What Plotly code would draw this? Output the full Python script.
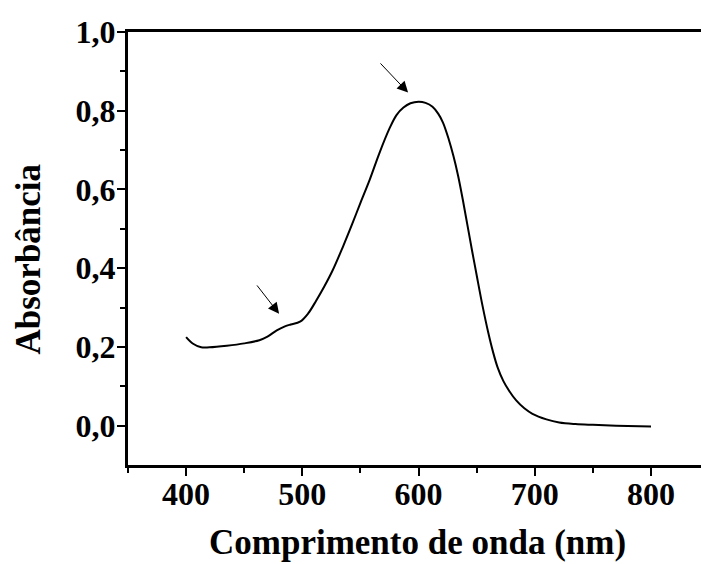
import plotly.graph_objects as go

comprimento = [400, 406, 413, 420, 435, 450, 463, 470, 478, 485, 490, 498,
               505, 512, 519, 526, 535, 543, 550, 558, 566, 575, 581, 587,
               593, 600, 606, 612, 617, 621, 626, 630, 634, 638, 642, 646,
               650, 655, 660, 664, 668, 673, 678, 684, 691, 698, 710, 721,
               735, 750, 770, 800]
absorbancia = [0.225, 0.208, 0.199, 0.199, 0.203, 0.209, 0.217, 0.226, 0.242,
               0.252, 0.257, 0.264, 0.285, 0.318, 0.354, 0.394, 0.455, 0.513,
               0.566, 0.625, 0.690, 0.755, 0.789, 0.808, 0.819, 0.823, 0.820,
               0.810, 0.792, 0.770, 0.727, 0.685, 0.635, 0.575, 0.510, 0.445,
               0.382, 0.305, 0.236, 0.188, 0.148, 0.113, 0.088, 0.064, 0.044,
               0.030, 0.016, 0.008, 0.004, 0.002, 0.0, -0.002]

# setas: (ponta x, ponta y, cauda x, cauda y)
setas = [(591, 0.846, 566, 0.924), (480, 0.284, 460, 0.360)]

fonte = "Liberation Serif"

fig = go.Figure()
fig.add_trace(go.Scatter(
    x=comprimento, y=absorbancia,
    mode="lines",
    line=dict(color="black", width=2, shape="spline", smoothing=1.0),
    showlegend=False
))

for x, y, ax, ay in setas:
    fig.add_annotation(
        x=x, y=y, ax=ax, ay=ay, xref="x", yref="y", axref="x", ayref="y",
        text="", showarrow=True, arrowhead=2, arrowsize=2.2, arrowwidth=1,
        arrowcolor="black"
    )

# títulos dos eixos como anotações, para posicionar com precisão
fig.add_annotation(
    text="<b>Comprimento de onda (nm)</b>", xref="paper", yref="paper",
    x=0.505, y=-0.18, xanchor="center", yanchor="middle", showarrow=False,
    font=dict(family=fonte, size=35, color="black")
)
fig.add_annotation(
    text="<b>Absorbância</b>", xref="paper", yref="paper",
    x=-0.1745, y=0.4746, xanchor="center", yanchor="middle", showarrow=False,
    textangle=-90, font=dict(family=fonte, size=35, color="black")
)

fig.update_layout(
    width=701, height=564,
    margin=dict(l=128, r=0, t=32, b=99),
    plot_bgcolor="white", paper_bgcolor="white",
    separators=",.",
    font=dict(family=fonte, color="black", size=32),
)

fig.update_xaxes(
    range=[350, 843], automargin=False,
    tickvals=[400, 500, 600, 700, 800],
    ticks="outside", ticklen=8, tickwidth=2, tickcolor="black",
    ticklabelstandoff=-9,
    minor=dict(tickvals=[350, 450, 550, 650, 750], ticks="outside",
               ticklen=5, tickwidth=2, tickcolor="black"),
    showline=True, linewidth=3, linecolor="black", mirror=True,
    showgrid=False, zeroline=False,
    tickfont=dict(family=fonte, size=32, color="black", weight="bold"),
)

fig.update_yaxes(
    range=[-0.1, 1.0], automargin=False,
    tickvals=[0.0, 0.2, 0.4, 0.6, 0.8, 1.0], tickformat=".1f",
    ticks="outside", ticklen=8, tickwidth=2, tickcolor="black",
    ticklabelstandoff=-5,
    minor=dict(tickvals=[0.1, 0.3, 0.5, 0.7, 0.9], ticks="outside",
               ticklen=5, tickwidth=2, tickcolor="black"),
    showline=True, linewidth=3, linecolor="black",
    showgrid=False, zeroline=False,
    tickfont=dict(family=fonte, size=32, color="black", weight="bold"),
)

# sem margem na página, para a figura ocupar a janela inteira
fig.write_html(
    "out.html",
    config={"displayModeBar": False},
    post_script="document.body.style.margin='0';"
                "document.body.style.overflow='hidden';"
)
